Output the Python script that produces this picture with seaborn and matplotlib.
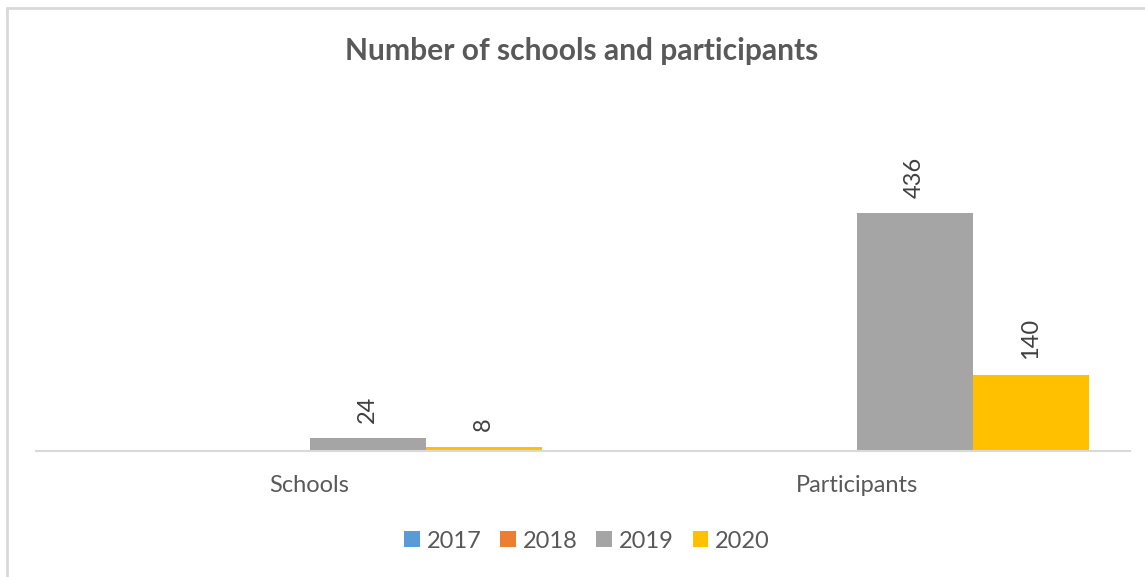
import matplotlib
matplotlib.use("Agg")
import matplotlib.pyplot as plt
import matplotlib.lines as mlines
from matplotlib.patches import Patch
import seaborn as sns
import pandas as pd

categories = ["Schools", "Participants"]
years = ["2017", "2018", "2019", "2020"]
values_2017 = [0, 0]
values_2018 = [0, 0]
values_2019 = [24, 436]
values_2020 = [8, 140]
colors = ["#5B9BD5", "#ED7D31", "#A5A5A5", "#FFC000"]

rows = []
for year, vals in zip(years, [values_2017, values_2018, values_2019, values_2020]):
    for cat, v in zip(categories, vals):
        rows.append({"category": cat, "year": year, "value": v})
df = pd.DataFrame(rows)

sns.set_style("white")
plt.rcParams["font.family"] = ["Lato", "DejaVu Sans"]
text_color = "#595959"

W, H = 1145, 577
fig = plt.figure(figsize=(W / 100, H / 100), dpi=100)
ax = fig.add_axes([36 / W, 126 / H, 1094 / W, 273 / H])

sns.barplot(data=df, x="category", y="value", hue="year", hue_order=years,
            order=categories, palette=colors, width=0.85, errorbar=None,
            saturation=1, linewidth=0, legend=False, ax=ax)

ax.set_ylim(0, 500)
ax.set_xlim(-0.5, 1.5)
ax.set_xlabel("")
ax.set_ylabel("")
ax.set_yticks([])
ax.tick_params(axis="x", length=0, pad=17, labelsize=17, labelcolor=text_color)
for side in ["top", "left", "right"]:
    ax.spines[side].set_visible(False)
ax.spines["bottom"].set_color("#D9D9D9")
ax.spines["bottom"].set_linewidth(1.5)

for cont in ax.containers:
    labels = [f"{b.get_height():g}" if b.get_height() else "" for b in cont]
    ax.bar_label(cont, labels=labels, rotation=90, padding=11,
                 fontsize=17, color="#404040")

fig.text(582 / W, 1 - 51 / H, "Number of schools and participants",
         ha="center", va="center", fontsize=21.6, fontweight="bold", color=text_color)

handles = [Patch(facecolor=c, edgecolor="none") for c in colors]
ax.legend(handles, years, loc="center", bbox_to_anchor=(587 / W, 1 - 541 / H),
          bbox_transform=fig.transFigure, ncol=4, frameon=False,
          fontsize=17, labelcolor=text_color, handlelength=0.65, handleheight=0.65,
          handletextpad=0.3, columnspacing=0.8)

# chart area border (cropped on right and bottom)
border = "#D9D9D9"
fig.add_artist(mlines.Line2D([7 / W, 7 / W], [0, 1 - 8 / H], color=border, lw=2))
fig.add_artist(mlines.Line2D([7 / W, 1], [1 - 8 / H, 1 - 8 / H], color=border, lw=2))

fig.savefig("out.png", dpi=100, facecolor="white")
